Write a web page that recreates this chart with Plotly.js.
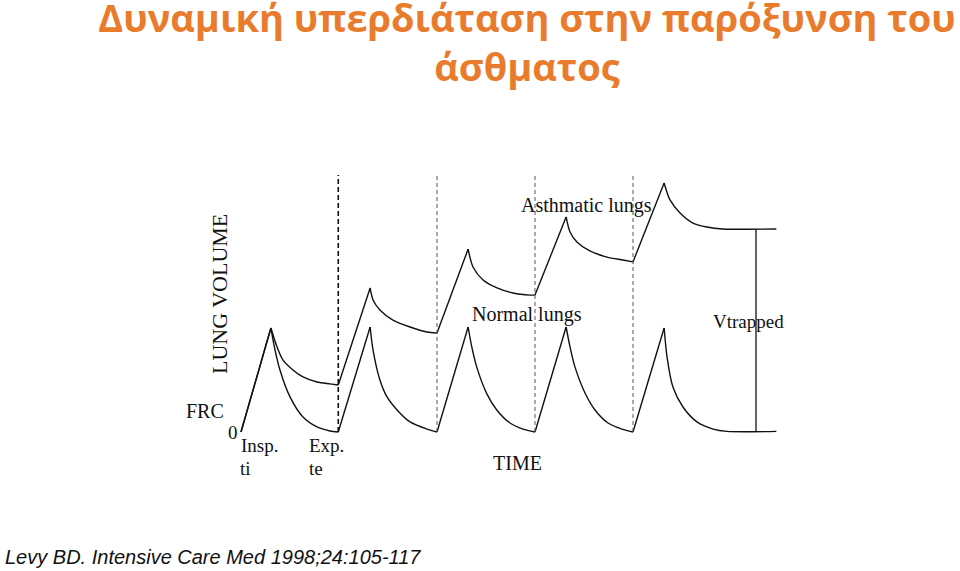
<!DOCTYPE html>
<html>
<head>
<meta charset="utf-8">
<script src="https://cdn.plot.ly/plotly-3.0.1.min.js"></script>
<style>html,body{margin:0;padding:0;background:#fff;}#chart{width:960px;height:571px;}</style>
</head>
<body>
<div id="chart"></div>
<script>
// ---- Data (time in s, volume in mL above FRC) ----
const breathStarts = [3.97, 8.0, 12.0, 16.0];
const peakTimes = [1.22, 5.27, 9.27, 13.27, 17.27];

const normalT = [0, 1.22, 1.39, 1.59, 2.0, 2.53, 3.10, 3.63, 3.97,
  5.27, 5.39, 5.67, 5.96, 6.37, 6.90, 7.59, 8.0,
  9.27, 9.42, 9.62, 10.03, 10.44, 10.98, 11.51, 12.0,
  13.27, 13.43, 13.63, 14.04, 14.45, 14.98, 15.55, 16.0,
  17.27, 17.39, 17.63, 18.04, 18.61, 19.27, 19.84, 21.85];
const normalV = [0, 495, 390, 295, 167, 71, 24, 5, 0,
  500, 390, 248, 167, 105, 48, 14, 0,
  500, 405, 310, 183, 105, 43, 14, 0,
  500, 405, 310, 186, 105, 43, 14, 0,
  495, 357, 214, 119, 48, 14, 3, 3];

const asthmaT = [0, 1.22, 1.47, 1.71, 2.12, 2.53, 3.10, 3.63, 3.97,
  5.27, 5.39, 5.67, 6.20, 6.90, 7.59, 8.0,
  9.27, 9.47, 9.88, 10.45, 11.10, 11.80, 12.0,
  13.27, 13.43, 13.71, 14.24, 14.94, 15.59, 16.0,
  17.27, 17.51, 17.92, 18.45, 19.02, 19.67, 21.85];
const asthmaV = [0, 495, 405, 343, 295, 262, 238, 229, 224,
  686, 629, 581, 533, 500, 476, 471,
  871, 786, 724, 686, 662, 652, 652,
  1024, 952, 905, 862, 833, 819, 810,
  1186, 1105, 1043, 995, 976, 967, 967];

const labels = {
  title: ['Δυναμική υπερδιάταση στην παρόξυνση του', 'άσθματος'],
  asthma: 'Asthmatic lungs',
  normal: 'Normal lungs',
  trapped: 'Vtrapped',
  yTitle: 'LUNG VOLUME',
  xTitle: 'TIME',
  frc: 'FRC', zero: '0', insp: 'Insp.', ti: 'ti', exp: 'Exp.', te: 'te',
  source: 'Levy BD. Intensive Care Med 1998;24:105-117'
};

// ---- Layout constants ----
const W = 960, H = 571;
const pxPerS = 24.5, x0px = 241;      // t=0 at pixel 241
const pxPerMl = 0.21, y0px = 432;     // V=0 at pixel 432
const xr = [-x0px / pxPerS, (W - x0px) / pxPerS];
const yr = [(y0px - H) / pxPerMl, y0px / pxPerMl];
const dashTop = 1224;
const trappedT = 21.02;
const serif = 'Liberation Serif, Times New Roman, serif';
const orange = 'rgb(233,124,44)';

function px(x) { return x / W; }
function py(y) { return 1 - y / H; }

// split a series into rise (linear) and decay (spline) segments
function segments(T, V) {
  const breaks = new Set([0]);
  T.forEach((t, i) => {
    if (peakTimes.includes(t) || breathStarts.includes(t)) breaks.add(i);
  });
  breaks.add(T.length - 1);
  const idx = Array.from(breaks).sort((a, b) => a - b);
  const out = [];
  for (let k = 0; k < idx.length - 1; k++) {
    const a = idx[k], b = idx[k + 1];
    const isDecay = peakTimes.includes(T[a]);
    out.push({
      x: T.slice(a, b + 1), y: V.slice(a, b + 1),
      type: 'scatter', mode: 'lines', hoverinfo: 'skip', showlegend: false,
      line: { color: '#111', width: 1.4, shape: isDecay ? 'spline' : 'linear', smoothing: 0.8 }
    });
  }
  return out;
}

const traces = [].concat(segments(normalT, normalV), segments(asthmaT, asthmaV));
traces.push({
  x: [trappedT, trappedT],
  y: [normalV[normalV.length - 1], asthmaV[asthmaV.length - 1]],
  type: 'scatter', mode: 'lines', hoverinfo: 'skip', showlegend: false,
  line: { color: '#111', width: 1.3 }
});

const shapes = breathStarts.map((t, i) => ({
  type: 'line', xref: 'x', yref: 'y', x0: t, x1: t, y0: 0, y1: dashTop,
  line: i === 0 ? { color: '#111', width: 1.6, dash: '5px,3px' }
                : { color: '#555', width: 1, dash: '4px,3px' }
}));

function ann(text, x, y, opts) {
  return Object.assign({
    text: text, xref: 'paper', yref: 'paper', x: px(x), y: py(y),
    xanchor: 'center', yanchor: 'middle', showarrow: false,
    font: { family: serif, size: 20, color: '#111' }
  }, opts || {});
}

const small = { family: serif, size: 19, color: '#111' };
const annotations = [
  ann(labels.asthma, 586, 206),
  ann(labels.normal, 527, 314),
  ann(labels.trapped, 748, 321, { font: small }),
  ann(labels.yTitle, 219, 294, { textangle: -90, font: { family: serif, size: 22, color: '#111' } }),
  ann(labels.xTitle, 517, 463),
  ann(labels.frc, 205, 411),
  ann(labels.zero, 233, 432, { font: small }),
  ann(labels.insp, 259, 445, { font: small }),
  ann(labels.ti, 246, 468, { font: small }),
  ann(labels.exp, 326, 445, { font: small }),
  ann(labels.te, 316, 468, { font: small }),
  ann(labels.source, 3, 557, { xanchor: 'left',
    font: { family: 'Liberation Sans, Arial, sans-serif', size: 20, color: '#111', style: 'italic' } })
];

const layout = {
  width: W, height: H,
  margin: { l: 0, r: 0, t: 0, b: 0 },
  paper_bgcolor: '#fff', plot_bgcolor: '#fff',
  title: {
    text: labels.title.join('<br>'), xref: 'container', yref: 'container',
    x: px(527), xanchor: 'center', y: py(32), yanchor: 'middle',
    font: { family: 'Open Sans, sans-serif', size: 38, color: orange, weight: 700 }
  },
  xaxis: { range: xr, visible: false, fixedrange: true },
  yaxis: { range: yr, visible: false, fixedrange: true },
  shapes: shapes,
  annotations: annotations,
  showlegend: false
};

Plotly.newPlot('chart', traces, layout, { displayModeBar: false, staticPlot: true });
</script>
</body>
</html>
